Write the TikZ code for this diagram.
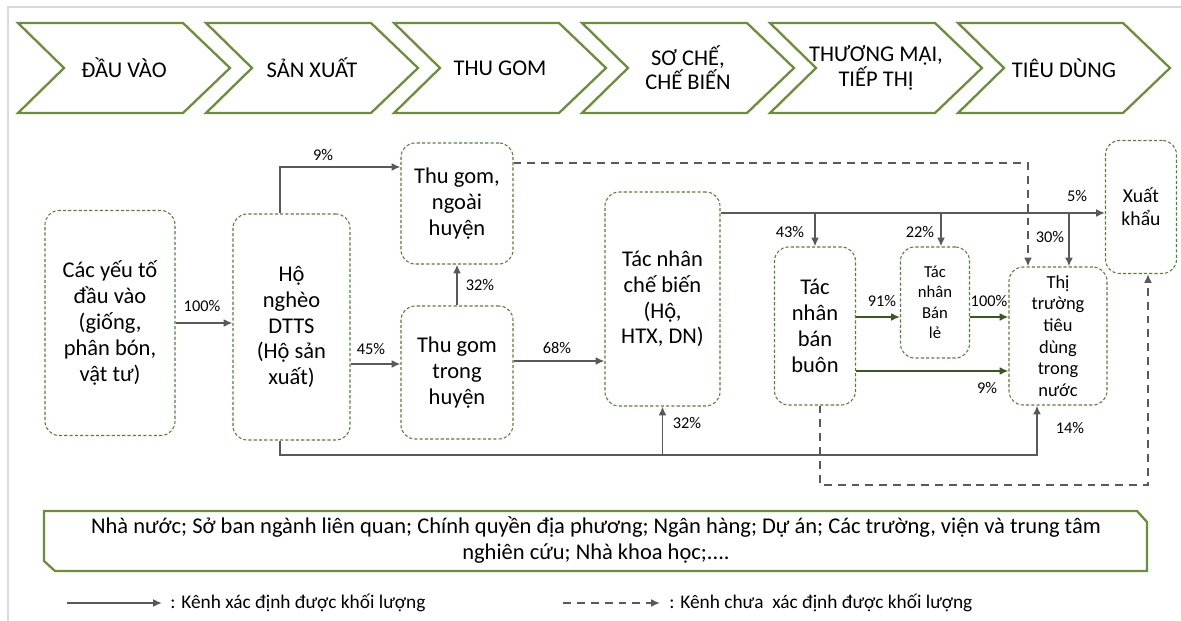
\documentclass[tikz,border=0pt]{standalone}
\usepackage{fontspec}
\setmainfont{Carlito}
\usetikzlibrary{arrows.meta}
\definecolor{chevgreen}{RGB}{106,142,57}
\definecolor{boxgreen}{RGB}{84,130,53}
\definecolor{flowgray}{RGB}{89,89,89}
\definecolor{flowgreen}{RGB}{56,87,35}
\definecolor{framegray}{RGB}{218,218,218}
\begin{document}
\begin{tikzpicture}[x=0.02cm,y=-0.02cm]
            \tikzstyle{every node}=[inner sep=0pt]
            \tikzstyle{stage}=[draw=chevgreen,line width=1.3pt,line join=miter]
            \tikzstyle{actor}=[draw=boxgreen,line width=0.6pt,dash pattern=on 1.8pt off 1.2pt,rounded corners=8pt,align=center]
            \tikzstyle{flow}=[draw=flowgray,line width=1.1pt,-{Latex[length=5pt,width=4.5pt]}]
            \tikzstyle{gflow}=[flow,draw=flowgreen]
            \tikzstyle{vague}=[flow,dash pattern=on 4.5pt off 3.4pt]
            \tikzstyle{pct}=[font=\fontsize{9.3}{11}\selectfont]
            \tikzstyle{big}=[font=\fontsize{12.8}{14.7}\selectfont]
            \useasboundingbox (0,0) rectangle (1181,621);
            \draw[framegray,line width=0.8pt] (8,621) -- (8,7) -- (1181,7);
            % value chain stages
            \foreach \l/\t [count=\k] in {18/{ĐẦU VÀO},206/{SẢN XUẤT},394/{THU GOM},582/{SƠ CHẾ,\\CHẾ BIẾN},770/{THƯƠNG MẠI,\\TIẾP THỊ},958/{TIÊU DÙNG}}
            {
              \draw[stage] (\l,23) -- (\l+165,23) -- (\l+212,68) -- (\l+165,113) -- (\l,113) -- (\l+46,68) -- cycle;
              \node[align=center,font=\fontsize{12.8}{13.8}\selectfont] (stage\k) at (\l+106,68) {\t};
            }
            % actors
            \node[actor,big,minimum width=2.6cm,minimum height=4.5cm] (inputs) at (110,323) {Các yếu tố\\đầu vào\\(giống,\\phân bón,\\vật tư)};
            \node[actor,big,minimum width=2.34cm,minimum height=4.52cm] (farm) at (291.5,327) {Hộ\\nghèo\\DTTS\\(Hộ sản\\xuất)};
            \node[actor,big,minimum width=2.24cm,minimum height=2.42cm] (colout) at (457,203.5) {Thu gom,\\ngoài\\huyện};
            \node[actor,big,minimum width=2.24cm,minimum height=2.66cm] (colin) at (457,372.5) {Thu gom\\trong\\huyện};
            \node[actor,big,minimum width=2.3cm,minimum height=4.28cm] (proc) at (662.5,299) {Tác nhân\\chế biến\\(Hộ,\\HTX, DN)};
            \node[actor,big,minimum width=1.62cm,minimum height=3.16cm] (whole) at (815,326) {Tác\\nhân\\bán\\buôn};
            \node[actor,font=\fontsize{9.5}{11.7}\selectfont,minimum width=1.38cm,minimum height=2.22cm] (retail) at (935,302.5) {Tác\\nhân\\Bán\\lẻ};
            \node[actor,font=\fontsize{10.5}{12.3}\selectfont,minimum width=1.96cm,minimum height=2.76cm] (market) at (1058,336) {Thị\\trường\\tiêu\\dùng\\trong\\nước};
            \node[actor,font=\fontsize{11.2}{13}\selectfont,minimum width=1.42cm,minimum height=2.66cm] (export) at (1141,207) {Xuất\\khẩu};
            % bend points
            \coordinate (b9) at (280,167);
            \coordinate (b45) at (300,364);
            \coordinate (b68) at (560,361);
            \coordinate (bl) at (280,455);
            \coordinate (br) at (1037,455);
            \coordinate (tl) at (700,213);
            \coordinate (tr) at (1069,213);
            \coordinate (mid) at (880,317);
            \coordinate (low) at (880,371);
            \coordinate (dt) at (1028,163);
            \coordinate (db) at (820,485);
            \coordinate (de) at (1148,485);
            % flows
            \draw[flow] (inputs.east) -- (inputs.east -| farm.west);
            \draw[flow] (farm.north -| b9) -- (b9) -- (b9 -| colout.west);
            \draw[flow] (b45 -| farm.east) -- (b45 -| colin.west);
            \draw[flow] (colin.north) -- (colout.south);
            \draw[flow] (b68 -| colin.east) -- (b68 -| proc.west);
            \draw[flow] (farm.south -| bl) -- (bl) -- (br) -- (br |- market.south);
            \draw[flow] (bl -| proc.south) -- (proc.south);
            \draw[flow] (tl -| proc.east) -- (tl -| export.west);
            \draw[flow] (tl -| whole.north) -- (whole.north);
            \draw[flow] (941,213) -- (941,0 |- retail.north);
            \draw[flow] (tr) -- (tr |- market.north);
            \draw[gflow] (mid -| whole.east) -- (mid -| retail.west);
            \draw[gflow] (mid -| retail.east) -- (mid -| market.west);
            \draw[gflow] (low -| whole.east) -- (low -| market.west);
            \draw[vague] (dt -| colout.east) -- (dt) -- (dt |- market.north);
            \draw[vague] (db |- whole.south) -- (db) -- (de) -- (de |- export.south);
            % shares
            \node[pct] (p100) at (202,306) {100\%};
            \node[pct] (p9) at (323,155) {9\%};
            \node[pct] (p45) at (371,349) {45\%};
            \node[pct] (p32a) at (480,285) {32\%};
            \node[pct] (p68) at (557,348) {68\%};
            \node[pct] (p32b) at (687,423) {32\%};
            \node[pct] (p14) at (1070,428) {14\%};
            \node[pct] (p5) at (1077,196) {5\%};
            \node[pct] (p43) at (790,232) {43\%};
            \node[pct] (p22) at (920,232) {22\%};
            \node[pct] (p30) at (1050,237) {30\%};
            \node[pct] (p91) at (882,301) {91\%};
            \node[pct] (p100b) at (989,301) {100\%};
            \node[pct] (p9b) at (987,388) {9\%};
            % supporting actors
            \draw[stage] (44,511) -- (1137,511) -- (1147,522) -- (1147,571) -- (55,571) -- (44,561) -- cycle;
            \node[align=center,font=\fontsize{12.8}{14.7}\selectfont] (support) at (596,540) {Nhà nước; Sở ban ngành liên quan; Chính quyền địa phương; Ngân hàng; Dự án; Các trường, viện và trung tâm\\nghiên cứu; Nhà khoa học;....};
            % legend
            \coordinate (lga) at (67,603);
            \coordinate (lgb) at (162,603);
            \coordinate (lgc) at (563,603);
            \coordinate (lgd) at (660,603);
            \draw[flow] (lga) -- (lgb);
            \draw[vague] (lgc) -- (lgd);
            \node[anchor=west,font=\fontsize{11}{13}\selectfont] (lgsure) at (170,603) {: Kênh xác định được khối lượng};
            \node[anchor=west,font=\fontsize{11}{13}\selectfont] (lgunsure) at (669,603) {: Kênh chưa\ \ xác định được khối lượng};
        \end{tikzpicture}
\end{document}
